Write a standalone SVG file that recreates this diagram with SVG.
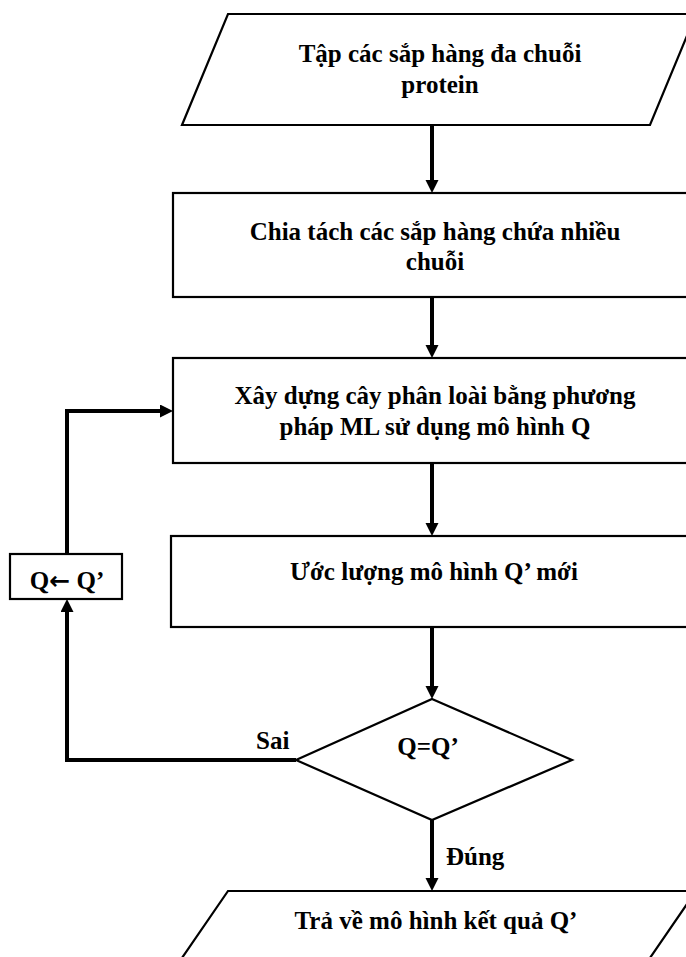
<svg xmlns="http://www.w3.org/2000/svg" width="686" height="957" viewBox="0 0 686 957">
<style>
.shape{fill:#fff;stroke:#000;stroke-width:2.2}
.t{font-family:"Liberation Serif","Times New Roman",serif;font-weight:bold;font-size:25px;fill:#000;text-anchor:middle}
.lbl{font-family:"Liberation Serif","Times New Roman",serif;font-weight:bold;font-size:25px;fill:#000}
.arr{font-family:"DejaVu Sans",sans-serif;font-weight:bold}
.c{fill:none;stroke:#000;stroke-width:4}
</style>
<defs>
<marker id="ah" markerUnits="userSpaceOnUse" markerWidth="14" markerHeight="14" refX="0" refY="6.5" orient="auto">
<path d="M0,0 L13,6.5 L0,13 z" fill="#000"/>
</marker>
</defs>
<rect width="686" height="957" fill="#fff"/>
<g id="n-input">
<polygon class="shape" points="228,14 696,14 650,125 182,125"/>
<text class="t" x="440" y="62">Tập các sắp hàng đa chuỗi</text>
<text class="t" x="440" y="93">protein</text>
</g>
<g id="n-split">
<rect class="shape" x="173" y="193" width="520" height="104"/>
<text class="t" x="435" y="240">Chia tách các sắp hàng chứa nhiều</text>
<text class="t" x="435" y="270">chuỗi</text>
</g>
<g id="n-build">
<rect class="shape" x="173" y="358" width="520" height="105"/>
<text class="t" x="435" y="404">Xây dựng cây phân loài bằng phương</text>
<text class="t" x="435" y="435">pháp ML sử dụng mô hình Q</text>
</g>
<g id="n-estimate">
<rect class="shape" x="171" y="536" width="522" height="91"/>
<text class="t" x="434" y="580">Ước lượng mô hình Q’ mới</text>
</g>
<g id="n-decision">
<polygon class="shape" points="432,699 572,760 432,820 296,760"/>
<text class="t" x="428" y="755">Q=Q’</text>
</g>
<g id="n-assign">
<rect class="shape" x="10" y="554" width="112" height="45"/>
<text class="t" x="67" y="589">Q<tspan class="arr">←</tspan> Q’</text>
</g>
<g id="n-output">
<polygon class="shape" points="228,891 696,891 641,971 173,971"/>
<text class="t" x="436" y="929">Trả về mô hình kết quả Q’</text>
</g>
<g id="connectors">
<path class="c" d="M432,125 V180" marker-end="url(#ah)"/>
<path class="c" d="M432,297 V345" marker-end="url(#ah)"/>
<path class="c" d="M432,463 V523" marker-end="url(#ah)"/>
<path class="c" d="M432,627 V686" marker-end="url(#ah)"/>
<path class="c" d="M432,820 V878" marker-end="url(#ah)"/>
<path class="c" d="M296,760 H67 V612" marker-end="url(#ah)"/>
<path class="c" d="M67,554 V411 H160" marker-end="url(#ah)"/>
<text class="lbl" x="256" y="749">Sai</text>
<text class="lbl" x="446" y="865">Đúng</text>
</g>
</svg>
